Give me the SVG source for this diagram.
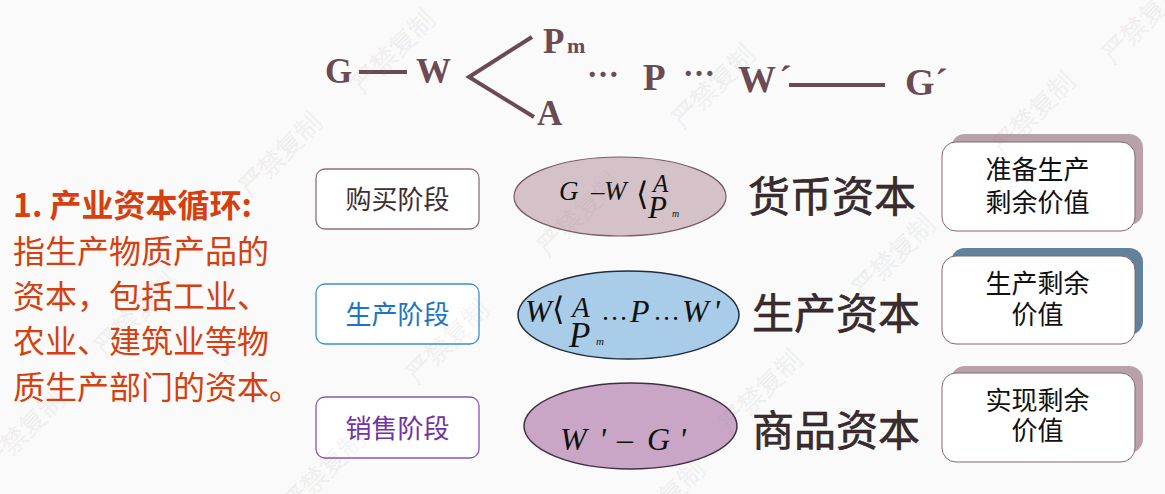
<svg xmlns="http://www.w3.org/2000/svg" width="1165" height="494" viewBox="0 0 1165 494">
<style>
.top{font-family:"Liberation Serif",serif;font-weight:bold;fill:#6b4b53}
.tl{stroke:#6b4b53;stroke-width:4;fill:none}
.lt{font-family:"Noto Sans CJK SC",sans-serif;font-size:32px;fill:#d4400f}
.stg{fill:#fff;stroke-width:1.3}
.st{font-family:"Noto Sans CJK SC",sans-serif;font-size:26px;text-anchor:middle}
.fm{font-family:"Liberation Serif",serif;font-style:italic;fill:#111}
.br{font-family:"DejaVu Serif",serif;fill:#111}
.cap{font-family:"Noto Sans CJK SC",sans-serif;font-size:42px;fill:#3b2c31;stroke:#2a1c21;stroke-width:0.6}
.sh1{fill:#b9a1a9}
.sh2{fill:#62819a}
.rb{fill:#fff;stroke:#806870;stroke-width:1}
.rt{font-family:"Noto Sans CJK SC",sans-serif;font-size:26px;fill:#111;text-anchor:middle}
.wm{font-family:"Noto Sans CJK SC",sans-serif;font-size:26px;font-weight:300;fill:#000;fill-opacity:0.025;stroke:#888;stroke-opacity:0.2;stroke-width:0.5;text-anchor:middle}
</style>
<rect width="1165" height="494" fill="#fafafa"/>

<g id="top-formula">
  <text class="top" x="325" y="83" font-size="35">G</text>
  <text class="top" x="416" y="83" font-size="35">W</text>
  <text class="top" x="543" y="53" font-size="35">P</text>
  <text class="top" x="567" y="53" font-size="22">m</text>
  <text class="top" x="537" y="125" font-size="35">A</text>
  <text class="top" x="587" y="77" font-size="32">…</text>
  <text class="top" x="643" y="90" font-size="37">P</text>
  <text class="top" x="683" y="76" font-size="32">…</text>
  <text class="top" x="738" y="92" font-size="38">W</text>
  <text class="top" x="779" y="92" font-size="38">´</text>
  <text class="top" x="905" y="95" font-size="38">G</text>
  <text class="top" x="935" y="95" font-size="38">´</text>
</g>

<g id="connectors">
  <line class="tl" x1="359" y1="72" x2="407" y2="72"/>
  <polyline class="tl" points="532,37 469,77 534,117"/>
  <line class="tl" x1="789" y1="85" x2="885" y2="85"/>
</g>

<g id="definition">
  <text class="lt" x="13" y="217" font-weight="bold">1. 产业资本循环:</text>
  <text class="lt" x="13" y="263">指生产物质产品的</text>
  <text class="lt" x="13" y="308">资本，包括工业、</text>
  <text class="lt" x="13" y="353">农业、建筑业等物</text>
  <text class="lt" x="13" y="399">质生产部门的资本。</text>
</g>

<g id="stage-buy">
  <rect class="stg" x="316" y="169" width="163" height="60" rx="9" stroke="#8a7077"/>
  <text class="st" x="397.5" y="209" fill="#3e2d33">购买阶段</text>
</g>
<g id="stage-produce">
  <rect class="stg" x="316" y="284" width="163" height="60" rx="9" stroke="#3a8fd8"/>
  <text class="st" x="397.5" y="324" fill="#1b74c5">生产阶段</text>
</g>
<g id="stage-sell">
  <rect class="stg" x="316" y="397" width="163" height="61" rx="9" stroke="#8855b8"/>
  <text class="st" x="397.5" y="437.5" fill="#7232a5">销售阶段</text>
</g>

<g id="ellipse-money">
  <ellipse cx="620" cy="196.5" rx="106" ry="39.5" fill="#d5c2c8" stroke="#7b5d66" stroke-width="1.2"/>
  <text class="fm" x="559" y="200" font-size="27">G</text>
  <text class="fm" x="591" y="200" font-size="27">–</text>
  <text class="fm" x="604" y="200" font-size="27">W</text>
  <text class="br" x="636" y="205" font-size="32">⟨</text>
  <text class="fm" x="653" y="192" font-size="25">A</text>
  <text class="fm" x="648" y="218" font-size="31">P</text>
  <text class="fm" x="672" y="217" font-size="10">m</text>
</g>

<g id="ellipse-production">
  <ellipse cx="628.5" cy="315" rx="110.5" ry="44" fill="#a9cde8" stroke="#1f2d3d" stroke-width="1.5"/>
  <text class="fm" x="525" y="322" font-size="32">W</text>
  <text class="br" x="552" y="320" font-size="32">⟨</text>
  <text class="fm" x="572" y="317" font-size="29">A</text>
  <text class="fm" x="569" y="347" font-size="35">P</text>
  <text class="fm" x="596" y="345" font-size="11">m</text>
  <text class="fm" x="603" y="320" font-size="27">…</text>
  <text class="fm" x="630" y="322" font-size="32">P</text>
  <text class="fm" x="655" y="320" font-size="27">…</text>
  <text class="fm" x="682" y="322" font-size="32">W</text>
  <text class="fm" x="713" y="322" font-size="32">'</text>
</g>

<g id="ellipse-commodity">
  <ellipse cx="630.5" cy="426" rx="106.5" ry="43" fill="#caa6c6" stroke="#3f3040" stroke-width="1.5"/>
  <text class="fm" x="560" y="450" font-size="32">W</text>
  <text class="fm" x="599" y="450" font-size="32">'</text>
  <text class="fm" x="617" y="450" font-size="32">–</text>
  <text class="fm" x="647" y="450" font-size="32">G</text>
  <text class="fm" x="679" y="450" font-size="32">'</text>
</g>

<g id="label-money"><text class="cap" x="748" y="212">货币资本</text></g>
<g id="label-production"><text class="cap" x="752" y="329">生产资本</text></g>
<g id="label-commodity"><text class="cap" x="752" y="446">商品资本</text></g>

<g id="result-prepare">
  <rect class="sh1" x="951" y="134" width="192" height="91" rx="14"/>
  <rect class="rb" x="942" y="142" width="193" height="89" rx="14"/>
  <text class="rt" x="1037.5" y="178.5">准备生产</text>
  <text class="rt" x="1037.5" y="211.5">剩余价值</text>
</g>
<g id="result-produce">
  <rect class="sh2" x="951" y="248" width="192" height="87" rx="14"/>
  <rect class="rb" x="942" y="256" width="193" height="88" rx="14"/>
  <text class="rt" x="1037.5" y="292.5">生产剩余</text>
  <text class="rt" x="1037.5" y="323.5">价值</text>
</g>
<g id="result-realize">
  <rect class="sh1" x="951" y="366" width="192" height="87" rx="14"/>
  <rect class="rb" x="942" y="373" width="193" height="89" rx="14"/>
  <text class="rt" x="1037.5" y="410">实现剩余</text>
  <text class="rt" x="1037.5" y="440">价值</text>
</g>

<g id="watermarks">
  <text class="wm" transform="translate(400,58) rotate(-45)">严禁复制</text>
  <text class="wm" transform="translate(720,93) rotate(-45)">严禁复制</text>
  <text class="wm" transform="translate(1040,120) rotate(-45)">严禁复制</text>
  <text class="wm" transform="translate(1150,28) rotate(-45)">严禁复制</text>
  <text class="wm" transform="translate(287,161) rotate(-45)">严禁复制</text>
  <text class="wm" transform="translate(585,221) rotate(-45)">严禁复制</text>
  <text class="wm" transform="translate(900,263) rotate(-45)">严禁复制</text>
  <text class="wm" transform="translate(142,321) rotate(-45)">严禁复制</text>
  <text class="wm" transform="translate(454,348) rotate(-45)">严禁复制</text>
  <text class="wm" transform="translate(767,398) rotate(-45)">严禁复制</text>
  <text class="wm" transform="translate(30,438) rotate(-45)">严禁复制</text>
  <text class="wm" transform="translate(330,478) rotate(-45)">严禁复制</text>
  <text class="wm" transform="translate(670,508) rotate(-45)">严禁复制</text>
</g>
</svg>
